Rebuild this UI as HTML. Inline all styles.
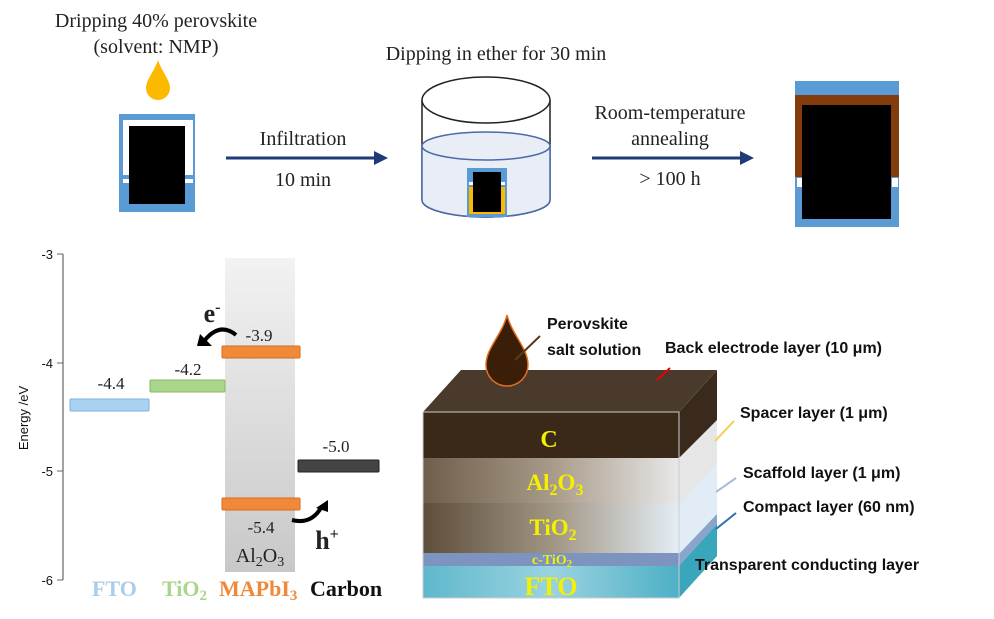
<!DOCTYPE html>
<html><head><meta charset="utf-8"><style>
body{margin:0;background:#fff;width:994px;height:619px;overflow:hidden}
svg{display:block}
.t{font-family:"Liberation Serif",serif;fill:#222}
.s{font-family:"Liberation Sans",sans-serif;fill:#111}
</style></head><body>
<svg width="994" height="619" viewBox="0 0 994 619">
<defs>
<linearGradient id="gb" x1="0" y1="0" x2="0" y2="1"><stop offset="0" stop-color="#f2f2f2"/><stop offset="1" stop-color="#c8c8c8"/></linearGradient>
<linearGradient id="fto" x1="0" y1="0" x2="1" y2="0"><stop offset="0" stop-color="#5fb8cc"/><stop offset=".5" stop-color="#9ad3e0"/><stop offset="1" stop-color="#4db0c6"/></linearGradient>
<linearGradient id="al" x1="0" y1="0" x2="1" y2="0"><stop offset="0" stop-color="#6e5e4c"/><stop offset=".5" stop-color="#a89a88"/><stop offset="1" stop-color="#e8e8e8"/></linearGradient>
<linearGradient id="ti" x1="0" y1="0" x2="1" y2="0"><stop offset="0" stop-color="#5e4e3c"/><stop offset=".5" stop-color="#a09482"/><stop offset="1" stop-color="#e4eef6"/></linearGradient>
</defs>
<!-- top row -->
<text class="t" x="156" y="27" font-size="20" text-anchor="middle">Dripping 40% perovskite</text>
<text class="t" x="156" y="53" font-size="20" text-anchor="middle">(solvent: NMP)</text>
<path d="M158 60 C162 72 170 80 170 88 A12 12 0 0 1 146 88 C146 80 154 72 158 60Z" fill="#fbb900"/>
<rect x="119" y="114" width="76" height="98" fill="#5b9bd5"/>
<rect x="123" y="120" width="70" height="55" fill="#fff"/>
<rect x="123" y="179" width="70" height="4" fill="#fff"/>
<rect x="129" y="126" width="56" height="78" fill="#000"/>
<text class="t" x="303" y="145" font-size="20" text-anchor="middle">Infiltration</text>
<text class="t" x="303" y="186" font-size="20" text-anchor="middle">10 min</text>
<line x1="226" y1="158" x2="376" y2="158" stroke="#1f3a78" stroke-width="3"/>
<polygon points="374,151 388,158 374,165" fill="#1f3a78"/>
<text class="t" x="496" y="60" font-size="20" text-anchor="middle">Dipping in ether for 30 min</text>
<path d="M422 100 V200 A64 17 0 0 0 550 200 V100" fill="none" stroke="#222" stroke-width="1.5"/>
<path d="M422 146 V200 A64 17 0 0 0 550 200 V146 Z" fill="#e8edf6" stroke="#4a6aa8" stroke-width="1.5"/>
<ellipse cx="486" cy="146" rx="64" ry="14" fill="#e8edf6" stroke="#4a6aa8" stroke-width="1.5"/>
<ellipse cx="486" cy="100" rx="64" ry="23" fill="#fff" stroke="#222" stroke-width="1.5"/>
<rect x="467" y="168" width="40" height="49" fill="#5b9bd5"/>
<rect x="469" y="182" width="36" height="3" fill="#fff"/>
<rect x="469" y="187" width="36" height="27" fill="#fbb900"/>
<rect x="473" y="172" width="28" height="40" fill="#000"/>
<text class="t" x="670" y="119" font-size="20" text-anchor="middle">Room-temperature</text>
<text class="t" x="670" y="145" font-size="20" text-anchor="middle">annealing</text>
<text class="t" x="670" y="185" font-size="20" text-anchor="middle">&gt; 100 h</text>
<line x1="592" y1="158" x2="742" y2="158" stroke="#1f3a78" stroke-width="3"/>
<polygon points="740,151 754,158 740,165" fill="#1f3a78"/>
<rect x="795" y="81" width="104" height="146" fill="#5b9bd5"/>
<rect x="795" y="95" width="104" height="82" fill="#843c0c"/>
<rect x="797" y="178" width="6" height="9" fill="#fff"/>
<rect x="892" y="178" width="6" height="9" fill="#fff"/>
<rect x="802" y="105" width="89" height="114" fill="#000"/>
<!-- energy diagram -->
<rect x="225" y="258" width="70" height="314" fill="url(#gb)"/>
<line x1="63" y1="254" x2="63" y2="580" stroke="#666" stroke-width="1.2"/>
<g stroke="#666"><line x1="57" y1="254" x2="63" y2="254"/><line x1="57" y1="363" x2="63" y2="363"/><line x1="57" y1="471" x2="63" y2="471"/><line x1="57" y1="580" x2="63" y2="580"/></g>
<g class="s" font-size="13" text-anchor="end"><text x="53" y="259">-3</text><text x="53" y="368">-4</text><text x="53" y="476">-5</text><text x="53" y="585">-6</text></g>
<text class="s" font-size="13" transform="translate(28 418) rotate(-90)" text-anchor="middle">Energy /eV</text>
<rect x="70" y="399" width="79" height="12" fill="#a9d2f0" stroke="#7fb0d8" rx="1"/>
<rect x="150" y="380" width="75" height="12" fill="#a9d68a" stroke="#86b866" rx="1"/>
<rect x="222" y="346" width="78" height="12" fill="#f08a3a" stroke="#d86a1a" rx="1"/>
<rect x="222" y="498" width="78" height="12" fill="#f08a3a" stroke="#d86a1a" rx="1"/>
<rect x="298" y="460" width="81" height="12" fill="#444" stroke="#222" rx="1"/>
<g class="t" font-size="17" text-anchor="middle"><text x="111" y="389">-4.4</text><text x="188" y="375">-4.2</text><text x="259" y="341">-3.9</text><text x="336" y="452">-5.0</text><text x="261" y="533">-5.4</text></g>
<text class="t" x="260" y="562" font-size="20" text-anchor="middle">Al<tspan font-size="14" dy="4">2</tspan><tspan dy="-4">O</tspan><tspan font-size="14" dy="4">3</tspan></text>
<text class="t" x="212" y="322" font-size="26" font-weight="bold" text-anchor="middle" fill="#000">e<tspan font-size="16" dy="-10">-</tspan></text>
<path d="M236 335 Q220 322 205 340" fill="none" stroke="#000" stroke-width="4"/>
<polygon points="197,346 212,346 200,334" fill="#000"/>
<path d="M292 520 Q312 525 322 506" fill="none" stroke="#000" stroke-width="4"/>
<polygon points="328,500 316,508 328,512" fill="#000"/>
<text class="t" x="327" y="549" font-size="26" font-weight="bold" text-anchor="middle" fill="#000">h<tspan font-size="16" dy="-10">+</tspan></text>
<g font-family="Liberation Serif,serif" font-weight="bold" font-size="22">
<text x="92" y="596" fill="#a9cdea">FTO</text>
<text x="162" y="596" fill="#a9d68a">TiO<tspan font-size="15" dy="4">2</tspan></text>
<text x="219" y="596" fill="#f0883a">MAPbI<tspan font-size="15" dy="4">3</tspan></text>
<text x="310" y="596" fill="#111">Carbon</text></g>
<!-- 3D stack -->
<polygon points="423,412 461,370 717,370 679,412" fill="#4a3a2c"/>
<polygon points="679,412 717,370 717,556 679,598" fill="#e6e6e6"/>
<polygon points="679,412 717,370 717,420 679,458" fill="#3a2a1e"/>
<polygon points="679,505 717,463 717,514 679,554" fill="#e2ecf6"/>
<polygon points="679,554 717,514 717,524 679,566" fill="#8aa4cc"/>
<polygon points="679,566 717,524 717,556 679,598" fill="#3aa6bc"/>
<rect x="423" y="412" width="256" height="46" fill="#3a2818"/>
<rect x="423" y="458" width="256" height="45" fill="url(#al)"/>
<rect x="423" y="503" width="256" height="50" fill="url(#ti)"/>
<rect x="423" y="553" width="256" height="13" fill="#7e94c0"/>
<rect x="423" y="566" width="256" height="32" fill="url(#fto)"/>
<rect x="423" y="412" width="256" height="186" fill="none" stroke="#ccc" stroke-width="1"/>
<g font-family="Liberation Serif,serif" font-weight="bold" fill="#f5f000" text-anchor="middle">
<text x="549" y="447" font-size="24">C</text>
<text x="555" y="490" font-size="23">Al<tspan font-size="16" dy="5">2</tspan><tspan dy="-5">O</tspan><tspan font-size="16" dy="5">3</tspan></text>
<text x="553" y="535" font-size="23">TiO<tspan font-size="16" dy="5">2</tspan></text>
<text x="552" y="564" font-size="14">c-TiO<tspan font-size="11" dy="3">2</tspan></text>
<text x="551" y="595" font-size="26">FTO</text></g>
<path d="M507 315 C512 335 528 348 528 365 A21 21 0 0 1 486 365 C486 348 502 335 507 315Z" fill="#3a1e08" stroke="#e07020" stroke-width="1.5"/>
<line x1="515" y1="360" x2="540" y2="336" stroke="#5a3a1a" stroke-width="2"/>
<g class="s" font-size="16" font-weight="bold" fill="#111">
<text x="547" y="329">Perovskite</text><text x="547" y="355">salt solution</text>
<text x="665" y="353">Back electrode layer (10 μm)</text>
<text x="740" y="418">Spacer layer (1 μm)</text>
<text x="743" y="478">Scaffold layer (1 μm)</text>
<text x="743" y="512">Compact layer (60 nm)</text>
<text x="695" y="570">Transparent conducting layer</text></g>
<line x1="657" y1="380" x2="670" y2="368" stroke="#e00" stroke-width="2"/>
<line x1="715" y1="441" x2="734" y2="421" stroke="#f5d060" stroke-width="2"/>
<line x1="716" y1="492" x2="736" y2="478" stroke="#a8bcd8" stroke-width="2"/>
<line x1="716" y1="529" x2="736" y2="513" stroke="#2f6fb0" stroke-width="2"/>
</svg>
</body></html>
